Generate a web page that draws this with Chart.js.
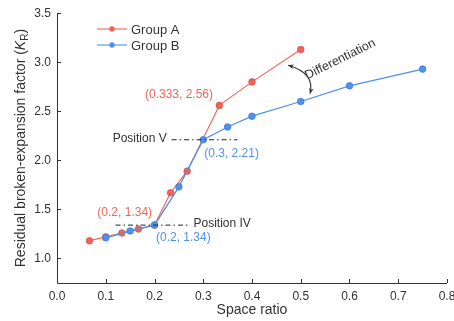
<!DOCTYPE html>
<html>
<head>
<meta charset="utf-8">
<script src="https://cdn.jsdelivr.net/npm/chart.js@4/dist/chart.umd.min.js"></script>
<style>
  html, body { margin: 0; padding: 0; background: #fff; }
  #wrap { width: 454px; height: 321px; }
</style>
</head>
<body>
<div id="wrap"><canvas id="kChart"></canvas></div>
<script>
// space ratio / residual broken-expansion factor
const groupAX = [0.0667, 0.1, 0.133, 0.167, 0.2, 0.233, 0.267, 0.333, 0.4, 0.5];
const groupAY = [1.18, 1.22, 1.26, 1.30, 1.34, 1.67, 1.89, 2.56, 2.80, 3.13];
const groupBX = [0.1, 0.15, 0.2, 0.25, 0.3, 0.35, 0.4, 0.5, 0.6, 0.75];
const groupBY = [1.21, 1.28, 1.34, 1.73, 2.21, 2.34, 2.45, 2.60, 2.76, 2.93];
const xTicks = [0.0, 0.1, 0.2, 0.3, 0.4, 0.5, 0.6, 0.7, 0.8];
const yTicks = [1.0, 1.5, 2.0, 2.5, 3.0, 3.5];
const posVLine = { x: [0.235, 0.37], y: 2.21 };
const posIVLine = { x: [0.12, 0.27], y: 1.34 };

const RED = '#ee6557';
const BLUE = '#4f92ea';
const INK = '#333';
const FONT = '"Liberation Sans", Arial, sans-serif';

function pts(xs, ys) { return xs.map((x, i) => ({ x: x, y: ys[i] })); }
function seg(line) { return line.x.map(x => ({ x: x, y: line.y })); }

const extras = {
    id: 'extras',
    afterDraw(chart) {
        const c = chart.ctx, xs = chart.scales.x, ys = chart.scales.y;
        const a = chart.chartArea;
        c.save();
        // axes
        c.strokeStyle = INK; c.lineWidth = 1;
        c.beginPath();
        c.moveTo(a.left + 0.5, a.top); c.lineTo(a.left + 0.5, a.bottom + 0.5);
        c.lineTo(a.right, a.bottom + 0.5);
        c.stroke();
        // inward ticks
        c.beginPath();
        xTicks.forEach(v => { const p = Math.round(xs.getPixelForValue(v)) + 0.5; c.moveTo(p, a.bottom); c.lineTo(p, a.bottom - 4); });
        yTicks.forEach(v => { const p = Math.round(ys.getPixelForValue(v)) + 0.5; c.moveTo(a.left, p); c.lineTo(a.left + 4, p); });
        c.stroke();

        // y title with italic K and subscript R
        c.save();
        c.translate(21, (a.top + a.bottom) / 2);
        c.rotate(-Math.PI / 2);
        c.fillStyle = INK;
        c.textBaseline = 'middle';
        const parts = [
            ['Residual broken-expansion factor (', '14px ' + FONT, 0],
            ['K', 'italic 14px ' + FONT, 0],
            ['R', '10px ' + FONT, 4],
            [')', '14px ' + FONT, 0]
        ];
        let w = 0;
        parts.forEach(p => { c.font = p[1]; w += c.measureText(p[0]).width; });
        let x0 = -w / 2;
        parts.forEach(p => { c.font = p[1]; c.fillText(p[0], x0, p[2]); x0 += c.measureText(p[0]).width; });
        c.restore();

        // legend
        c.font = '13px ' + FONT;
        c.textBaseline = 'middle';
        [[RED, 'Group A', 29], [BLUE, 'Group B', 45]].forEach(l => {
            c.strokeStyle = l[0]; c.lineWidth = 1.1;
            c.beginPath(); c.moveTo(97, l[2]); c.lineTo(127, l[2]); c.stroke();
            c.fillStyle = l[0];
            c.beginPath(); c.arc(112, l[2], 2.7, 0, Math.PI * 2); c.fill();
            c.fillStyle = INK;
            c.fillText(l[1], 131, l[2] + 1);
        });

        // annotations
        c.font = '12px ' + FONT;
        const label = (txt, col, x, y, align) => {
            c.fillStyle = col; c.textAlign = align;
            c.fillText(txt, xs.getPixelForValue(x), ys.getPixelForValue(y));
        };
        label('(0.333, 2.56)', RED, 0.32, 2.67, 'right');
        label('Position V', INK, 0.225, 2.22, 'right');
        label('(0.3, 2.21)', BLUE, 0.302, 2.07, 'left');
        label('(0.2, 1.34)', RED, 0.195, 1.47, 'right');
        label('Position IV', INK, 0.28, 1.35, 'left');
        label('(0.2, 1.34)', BLUE, 0.203, 1.21, 'left');

        // differentiation arrow
        const p1 = [xs.getPixelForValue(0.474), ys.getPixelForValue(2.97)];
        const p2 = [xs.getPixelForValue(0.519), ys.getPixelForValue(2.68)];
        const cp = [xs.getPixelForValue(0.53), ys.getPixelForValue(2.89)];
        c.strokeStyle = INK; c.fillStyle = INK; c.lineWidth = 1.1;
        c.beginPath(); c.moveTo(p1[0], p1[1]); c.quadraticCurveTo(cp[0], cp[1], p2[0], p2[1]); c.stroke();
        const head = (tip, from) => {
            const ang = Math.atan2(tip[1] - from[1], tip[0] - from[0]);
            c.beginPath();
            c.moveTo(tip[0], tip[1]);
            c.lineTo(tip[0] - 6 * Math.cos(ang - 0.4), tip[1] - 6 * Math.sin(ang - 0.4));
            c.lineTo(tip[0] - 4 * Math.cos(ang), tip[1] - 4 * Math.sin(ang));
            c.lineTo(tip[0] - 6 * Math.cos(ang + 0.4), tip[1] - 6 * Math.sin(ang + 0.4));
            c.closePath(); c.fill();
        };
        head(p1, cp); head(p2, cp);

        c.save();
        c.translate(xs.getPixelForValue(0.581), ys.getPixelForValue(3.03));
        c.rotate(-0.46);
        c.textAlign = 'center';
        c.textBaseline = 'middle';
        c.fillStyle = INK;
        c.font = '12.5px ' + FONT;
        c.fillText('Differentiation', 0, 0);
        c.restore();

        c.restore();
    }
};

new Chart(document.getElementById('kChart'), {
    type: 'scatter',
    data: {
        datasets: [
            {
                label: 'Position V', data: seg(posVLine), showLine: true,
                borderColor: '#222', borderWidth: 1, borderDash: [5, 3, 1.5, 3], pointRadius: 0
            },
            {
                label: 'Position IV', data: seg(posIVLine), showLine: true,
                borderColor: '#222', borderWidth: 1, borderDash: [5, 3, 1.5, 3], pointRadius: 0
            },
            {
                label: 'Group B', data: pts(groupBX, groupBY), showLine: true,
                borderColor: BLUE, backgroundColor: BLUE, borderWidth: 1.3,
                pointRadius: 3.3, pointBorderColor: '#3c7fd8', pointBorderWidth: 0.8
            },
            {
                label: 'Group A', data: pts(groupAX, groupAY), showLine: true,
                borderColor: RED, backgroundColor: RED, borderWidth: 1.1,
                pointRadius: 3.3, pointBorderColor: '#dc5446', pointBorderWidth: 0.8
            }
        ]
    },
    options: {
        responsive: true,
        maintainAspectRatio: false,
        animation: false,
        layout: { padding: { top: 12, right: 7, left: 0, bottom: 0 } },
        plugins: { legend: { display: false }, tooltip: { enabled: false } },
        scales: {
            x: {
                type: 'linear', min: 0, max: 0.8,
                afterBuildTicks: s => { s.ticks = xTicks.map(v => ({ value: v })); },
                afterFit: s => { s.height = 38; s.paddingRight = 0; },
                grid: { display: false, drawTicks: false }, border: { display: false },
                ticks: { color: INK, font: { family: FONT, size: 12 }, padding: 6, callback: v => v.toFixed(1) },
                title: { display: true, text: 'Space ratio', color: INK, font: { family: FONT, size: 14 }, padding: { top: 2, bottom: 2 } }
            },
            y: {
                type: 'linear', min: 0.75, max: 3.5,
                afterBuildTicks: s => { s.ticks = yTicks.map(v => ({ value: v })); },
                afterFit: s => { s.width = 57; },
                grid: { display: false, drawTicks: false }, border: { display: false },
                ticks: { color: INK, font: { family: FONT, size: 12 }, padding: 6, callback: v => v.toFixed(1) }
            }
        }
    },
    plugins: [extras]
});
</script>
</body>
</html>
